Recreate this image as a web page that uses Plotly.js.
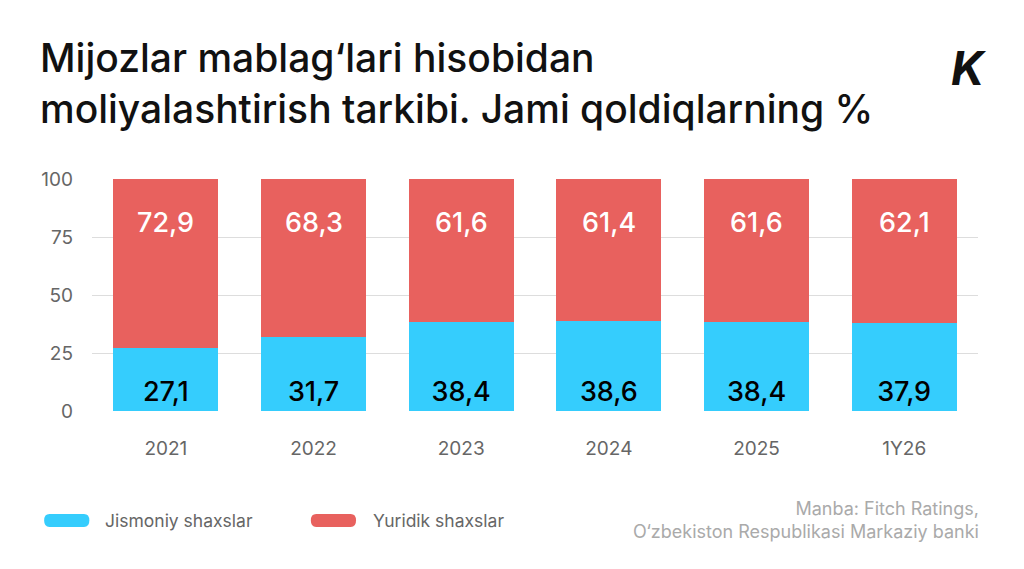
<!DOCTYPE html>
<html>
<head>
<meta charset="utf-8">
<script src="https://cdn.plot.ly/plotly-3.0.1.min.js"></script>
<style>body{margin:0;background:#fff}#chart{width:1024px;height:569px}</style>
</head>
<body>
<div id="chart"></div>
<script>
var years = ['2021', '2022', '2023', '2024', '2025', '1Y26'];
var jismoniy = [27.1, 31.7, 38.4, 38.6, 38.4, 37.9];
var yuridik = [72.9, 68.3, 61.6, 61.4, 61.6, 62.1];

var font = 'Inter, "Open Sans", sans-serif';
var blue = '#35CDFD';
var red = '#E8615E';

function fmt(v) { return v.toFixed(1).replace('.', ','); }

var data = [
  {
    x: years, y: jismoniy, name: 'Jismoniy shaxslar', type: 'bar', width: 0.71,
    marker: { color: blue },
    text: jismoniy.map(fmt),
    textposition: 'inside',
    insidetextanchor: 'start',
    textfont: { color: '#000', size: 27, family: font, weight: 500 },
    hoverinfo: 'y', showlegend: false
  },
  {
    x: years, y: yuridik, name: 'Yuridik shaxslar', type: 'bar', width: 0.71,
    marker: { color: red },
    hoverinfo: 'y', showlegend: false
  }
];

// rounded pill for the legend
function pill(x0, x1, y0, y1, color) {
  var r = (y1 - y0) / 2;
  return {
    type: 'path', xref: 'paper', yref: 'paper', fillcolor: color, line: { width: 0 },
    path: 'M' + (x0 + 0.006) + ',' + y0 + ' L' + (x1 - 0.006) + ',' + y0 +
      ' Q' + x1 + ',' + y0 + ' ' + x1 + ',' + (y0 + r) +
      ' Q' + x1 + ',' + y1 + ' ' + (x1 - 0.006) + ',' + y1 +
      ' L' + (x0 + 0.006) + ',' + y1 +
      ' Q' + x0 + ',' + y1 + ' ' + x0 + ',' + (y0 + r) +
      ' Q' + x0 + ',' + y0 + ' ' + (x0 + 0.006) + ',' + y0 + ' Z'
  };
}

var annotations = [
  { xref: 'paper', yref: 'paper', x: -0.061, y: 1.414, xanchor: 'left', yanchor: 'middle', showarrow: false,
    align: 'left', text: 'Mijozlar mablag‘lari hisobidan<br>moliyalashtirish tarkibi. Jami qoldiqlarning %',
    font: { size: 39, color: '#111', family: font, weight: 500 } },
  { xref: 'paper', yref: 'paper', x: 1.012, y: 1.48, xanchor: 'right', yanchor: 'middle', showarrow: false,
    text: '<b><i>K</i></b>', font: { size: 46, color: '#111', family: font } },
  { xref: 'paper', yref: 'paper', x: 0.012, y: -0.472, xanchor: 'left', yanchor: 'middle', showarrow: false,
    text: 'Jismoniy shaxslar', font: { size: 17.5, color: '#666' } },
  { xref: 'paper', yref: 'paper', x: 0.315, y: -0.472, xanchor: 'left', yanchor: 'middle', showarrow: false,
    text: 'Yuridik shaxslar', font: { size: 17.5, color: '#666' } },
  { xref: 'paper', yref: 'paper', x: 1.003, y: -0.47, xanchor: 'right', yanchor: 'middle', showarrow: false,
    align: 'right', text: 'Manba: Fitch Ratings,<br>O‘zbekiston Respublikasi Markaziy banki',
    font: { size: 18, color: '#aaa' } }
];

// red segment labels, placed near the top of each stack (x given as category index)
years.forEach(function (yr, i) {
  annotations.push({
    xref: 'x', yref: 'y', x: i, y: jismoniy[i] + yuridik[i], yanchor: 'middle', yshift: -43, showarrow: false,
    text: fmt(yuridik[i]), font: { size: 27, color: '#fff', family: font, weight: 500 }
  });
});

var layout = {
  width: 1024,
  height: 569,
  barmode: 'stack',
  paper_bgcolor: '#fff',
  plot_bgcolor: '#fff',
  margin: { t: 179, r: 46, b: 158, l: 92 },
  font: { family: font, color: '#666' },
  xaxis: {
    type: 'category',
    categoryarray: years,
    range: [-0.5, years.length - 0.5],
    tickfont: { size: 19, color: '#666' },
    ticks: '',
    ticklabelstandoff: 24,
    showline: false
  },
  yaxis: {
    range: [0, 100],
    tickvals: [0, 25, 50, 75, 100],
    tickfont: { size: 19, color: '#666' },
    gridcolor: '#dddddd',
    zeroline: false,
    ticklabelstandoff: 18
  },
  shapes: [
    pill(-0.054, -0.003, -0.5, -0.444, blue),
    pill(0.247, 0.298, -0.5, -0.444, red)
  ],
  annotations: annotations
};

Plotly.newPlot('chart', data, layout, { displayModeBar: false });
</script>
</body>
</html>
